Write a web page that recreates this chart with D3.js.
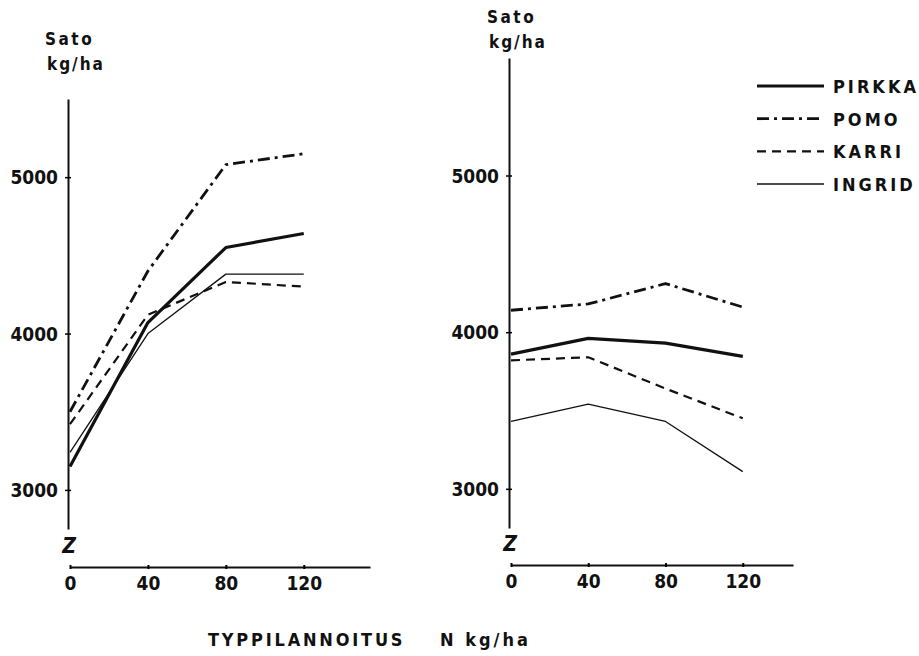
<!DOCTYPE html>
<html>
<head>
<meta charset="utf-8">
<script src="https://cdn.jsdelivr.net/npm/d3@7"></script>
<style>
  html, body { margin: 0; padding: 0; background: #fff; }
  svg text { font-family: "DejaVu Sans Condensed", "DejaVu Sans", sans-serif; font-weight: bold; fill: #111; }
</style>
</head>
<body>
<svg id="chart"></svg>
<script>
const WIDTH = 919;
const HEIGHT = 656;

// --- data ---
const nLevels = [0, 40, 80, 120];
const xTicks = [0, 40, 80, 120];
const yTicks = [3000, 4000, 5000];
const varieties = ["PIRKKA", "POMO", "KARRI", "INGRID"];

// left panel yields (kg/ha)
const pirkkaLeft = [3150, 4070, 4550, 4640];
const pomoLeft   = [3500, 4400, 5080, 5150];
const karriLeft  = [3420, 4120, 4330, 4300];
const ingridLeft = [3240, 4000, 4380, 4380];

// right panel yields (kg/ha)
const pirkkaRight = [3860, 3960, 3930, 3845];
const pomoRight   = [4140, 4180, 4310, 4160];
const karriRight  = [3820, 3840, 3640, 3450];
const ingridRight = [3430, 3540, 3430, 3110];

// line styles per variety
const styles = {
    PIRKKA: { width: 3.2, dash: null },
    POMO:   { width: 2.8, dash: "12,5,3,5" },
    KARRI:  { width: 2.2, dash: "9,6" },
    INGRID: { width: 1.3, dash: null }
};

const svg = d3.select("#chart")
    .attr("width", WIDTH)
    .attr("height", HEIGHT)
    .attr("viewBox", [0, 0, WIDTH, HEIGHT]);

const line = (x, y) => d3.line()
    .x((d, i) => x(nLevels[i]))
    .y(d => y(d));

function styleTickText(sel) {
    sel.attr("font-size", 19)
        .attr("font-family", "DejaVu Sans Condensed, DejaVu Sans, sans-serif")
        .attr("font-weight", "bold")
        .attr("fill", "#111");
}

function drawPanel(cfg) {
    const x = d3.scaleLinear().domain(cfg.xDomain).range(cfg.xRange);
    const y = d3.scaleLinear().domain(cfg.yDomain).range(cfg.yRange);
    const g = svg.append("g");

    // y axis
    const yAxis = g.append("g")
        .attr("transform", `translate(${cfg.xRange[0] - 2},0)`)
        .call(d3.axisLeft(y).tickValues(yTicks).tickFormat(d3.format("d"))
            .tickSize(3).tickSizeOuter(0).tickPadding(7));
    yAxis.select(".domain").attr("stroke", "#111").attr("stroke-width", 2);
    yAxis.selectAll(".tick line").attr("x2", 3).attr("x1", -3).attr("stroke-width", 1.5);
    yAxis.selectAll(".tick text").call(styleTickText).attr("dy", "0.35em");

    // x axis
    const xAxis = g.append("g")
        .attr("transform", `translate(0,${cfg.xAxisY})`)
        .call(d3.axisBottom(x).tickValues(xTicks).tickSize(2).tickSizeOuter(0).tickPadding(8));
    xAxis.select(".domain").attr("stroke", "#111").attr("stroke-width", 2);
    xAxis.selectAll(".tick line").attr("y1", -2).attr("y2", 2).attr("stroke-width", 2);
    xAxis.selectAll(".tick text").call(styleTickText);

    // axis break mark
    g.append("text")
        .attr("x", cfg.xRange[0] - 1)
        .attr("y", cfg.xAxisY - 14)
        .attr("text-anchor", "middle")
        .attr("font-size", 21)
        .attr("font-style", "italic")
        .text("Z");

    // y title
    g.append("text")
        .attr("x", cfg.titleX)
        .attr("y", cfg.titleY)
        .attr("font-size", 17)
        .attr("letter-spacing", 2.5)
        .text("Sato");
    g.append("text")
        .attr("x", cfg.titleX + 2)
        .attr("y", cfg.titleY + 25)
        .attr("font-size", 17)
        .attr("letter-spacing", 2)
        .text("kg/ha");

    // series
    cfg.series.forEach((vals, i) => {
        const st = styles[varieties[i]];
        g.append("path")
            .datum(vals)
            .attr("fill", "none")
            .attr("stroke", "#111")
            .attr("stroke-width", st.width)
            .attr("stroke-dasharray", st.dash)
            .attr("stroke-linejoin", "round")
            .attr("d", line(x, y));
    });
}

drawPanel({
    xDomain: [0, 154], xRange: [70, 370],
    yDomain: [2750, 5500], yRange: [529, 99],
    xAxisY: 567,
    titleX: 45, titleY: 45,
    series: [pirkkaLeft, pomoLeft, karriLeft, ingridLeft]
});

drawPanel({
    xDomain: [0, 146], xRange: [511, 793],
    yDomain: [2750, 5750], yRange: [528, 58],
    xAxisY: 565,
    titleX: 487, titleY: 23,
    series: [pirkkaRight, pomoRight, karriRight, ingridRight]
});

// legend
const legendY = d3.scalePoint().domain(varieties).range([86, 184]);
const legend = svg.append("g");
varieties.forEach(v => {
    const st = styles[v];
    legend.append("line")
        .attr("x1", 757).attr("x2", 824)
        .attr("y1", legendY(v)).attr("y2", legendY(v))
        .attr("stroke", "#111")
        .attr("stroke-width", st.width)
        .attr("stroke-dasharray", st.dash);
    legend.append("text")
        .attr("x", 833)
        .attr("y", legendY(v) + 7)
        .attr("font-size", 18)
        .attr("letter-spacing", 3)
        .text(v);
});

// bottom title
svg.append("text")
    .attr("x", 208)
    .attr("y", 646)
    .attr("font-size", 18)
    .attr("letter-spacing", 2.8)
    .text("TYPPILANNOITUS");
svg.append("text")
    .attr("x", 440)
    .attr("y", 646)
    .attr("font-size", 18)
    .attr("letter-spacing", 3)
    .text("N kg/ha");
</script>
</body>
</html>
